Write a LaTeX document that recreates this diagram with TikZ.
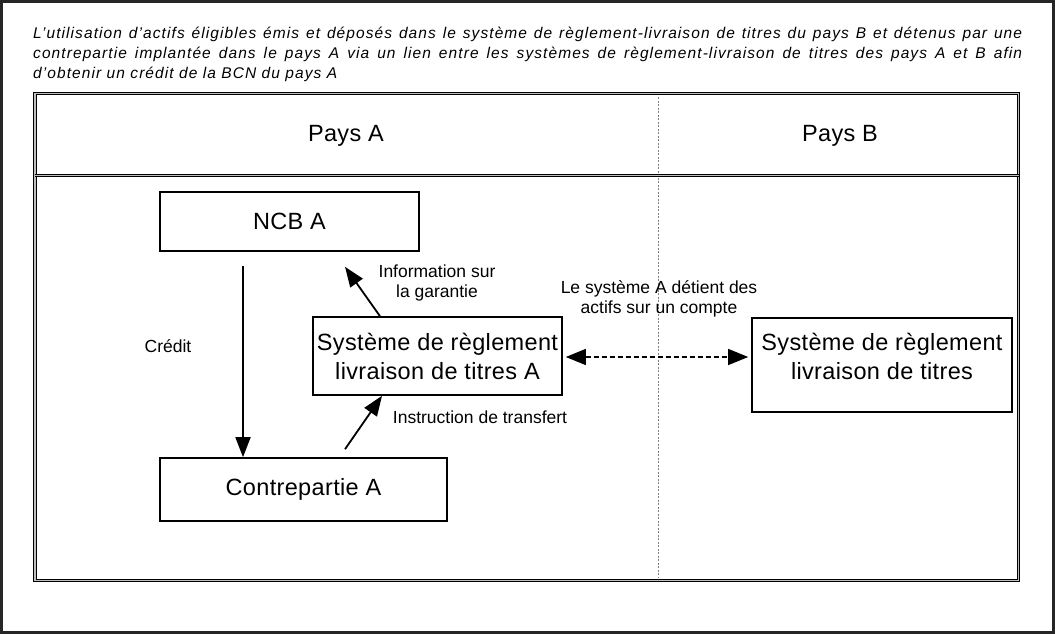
\documentclass[tikz,border=0pt]{standalone}
\usepackage{fontspec}
\setmainfont{Liberation Sans}
\usetikzlibrary{arrows.meta,calc}
\begin{document}
\begin{tikzpicture}[x=1pt,y=-1pt,
  box/.style={draw=black,line width=1.6pt,inner sep=0pt,align=center,font=\fontsize{23.5}{29}\selectfont\addfontfeatures{LetterSpace=1.5}},
  boxtext/.style={inner sep=0pt,align=center,font=\fontsize{23.5}{29}\selectfont\addfontfeatures{LetterSpace=1.5}},
  lbl/.style={align=center,font=\fontsize{17.5}{19.5}\selectfont,inner sep=0pt},
  ttl/.style={inner sep=0pt,font=\fontsize{15.5}{19.5}\selectfont\itshape\addfontfeatures{LetterSpace=7}},
  arr/.style={line width=1.8pt,-{Triangle[length=20pt,width=15pt]}},
  darr/.style={line width=1.2pt,dash pattern=on 5pt off 3pt,{Triangle[length=20pt,width=16pt]}-{Triangle[length=20pt,width=16pt]}},
  dframe/.style={draw=black,line width=1.3pt,double=gray!50,double distance=1.2pt},
  divider/.style={draw=gray,line width=0.8pt,dash pattern=on 2pt off 1.5pt}]
\useasboundingbox (0,0) rectangle (1055,634);
% outer frame
\draw[line width=3pt,draw=black!85] (1.5,1.5) rectangle (1053.5,632.5);
% title
\node[ttl,anchor=base west] (t1) at (33,39) {\makebox[989pt][s]{L’utilisation d’actifs éligibles émis et déposés dans le système de règlement-livraison de titres du pays B et détenus par une}};
\node[ttl,anchor=base west] (t2) at (33,58.5) {\makebox[989pt][s]{contrepartie implantée dans le pays A via un lien entre les systèmes de règlement-livraison de titres des pays A et B afin}};
\node[ttl,anchor=base west] (t3) at (33,78) {d’obtenir un crédit de la BCN du pays A};
% inner frame
\draw[divider] (658,97) -- (658,578);
\draw[dframe] (35,93.5) rectangle (1018.5,580.5);
\draw[dframe] (35,175.5) -- (1018.5,175.5);
% header
\node[boxtext] (pa) at (346,136) {Pays A};
\node[boxtext] (pb) at (840,136) {Pays B};
% boxes
\node[box,minimum width=259pt,minimum height=59pt] (ncb) at (289.5,221.5) {NCB A};
\node[box,minimum width=249pt,minimum height=78pt] (sysa) at (437.5,356) {Système de règlement\\livraison de titres A};
\node[box,minimum width=260pt,minimum height=94pt] (sysb) at (882,365) {};
\node[boxtext] (sysbt) at (882,356) {Système de règlement\\livraison de titres};
\node[box,minimum width=287pt,minimum height=63pt] (cpa) at (303.5,489.5) {Contrepartie A};
% connectors
\draw[arr] ([xshift=-46.5pt,yshift=-14pt]ncb.south) -- ([xshift=-60.5pt]cpa.north);
\draw[arr] ([xshift=-57.5pt]sysa.north) -- ([xshift=55.5pt,yshift=-15pt]ncb.south);
\draw[arr] ([xshift=41.5pt,yshift=8pt]cpa.north) -- ([xshift=-55.5pt]sysa.south);
\draw[darr,shorten <=3pt,shorten >=3pt] ([yshift=-1pt]sysa.east) -- ([yshift=-1pt]sysa.east -| sysb.west);
% labels
\node[lbl] (lcred) at (168,346) {Crédit};
\node[lbl] (linfo) at (437,283) {Information sur\\la garantie};
\node[lbl] (linst) at (480,417) {Instruction de transfert};
\node[lbl] (lsys) at (659,299) {Le système A détient des\\actifs sur un compte};
\end{tikzpicture}
\end{document}
